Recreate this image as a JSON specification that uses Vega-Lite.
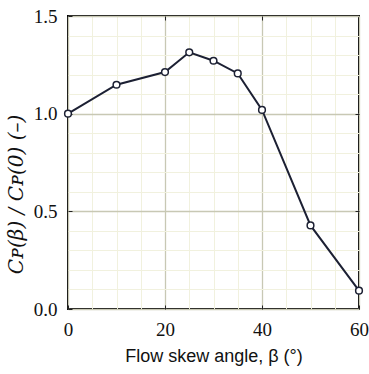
{
  "$schema": "https://vega.github.io/schema/vega-lite/v6.json",
  "autosize": "none",
  "width": 291,
  "height": 293,
  "padding": {"left": 68, "top": 16, "right": 10, "bottom": 65},
  "background": "white",
  "config": {
    "view": {"stroke": "#000000", "strokeWidth": 2},
    "axis": {"labelFont": "Liberation Serif", "titleFontWeight": "normal"}
  },
  "data": {
    "values": [
      {"beta": 0, "ratio": 1.0},
      {"beta": 10, "ratio": 1.148},
      {"beta": 20, "ratio": 1.213},
      {"beta": 25, "ratio": 1.314},
      {"beta": 30, "ratio": 1.271},
      {"beta": 35, "ratio": 1.206},
      {"beta": 40, "ratio": 1.019},
      {"beta": 50, "ratio": 0.428},
      {"beta": 60, "ratio": 0.094}
    ]
  },
  "resolve": {"axis": {"x": "independent", "y": "independent"}},
  "layer": [
    {
      "mark": {"type": "line", "color": "#1c2033", "strokeWidth": 2},
      "encoding": {
        "x": {
          "field": "beta",
          "type": "quantitative",
          "scale": {"domain": [0, 60], "nice": false, "zero": false},
          "axis": {
            "values": [0, 5, 10, 15, 20, 25, 30, 35, 40, 45, 50, 55, 60],
            "labelExpr": "datum.value % 20 === 0 ? datum.label : ''",
            "title": "Flow skew angle, β (°)",
            "titleFont": "Liberation Sans",
            "titleFontSize": 18,
            "titleFontWeight": "normal",
            "titleColor": "#111111",
            "titlePadding": 8,
            "labelFont": "Liberation Serif",
            "labelFontSize": 19,
            "labelColor": "#111111",
            "labelPadding": 15,
            "labelFlush": false,
            "domain": false,
            "tickSize": -4,
            "tickColor": "#222222",
            "tickWidth": 1,
            "tickOpacity": {"condition": {"test": "datum.value % 20 === 0", "value": 1}, "value": 0},
            "grid": true,
            "gridColor": {"condition": {"test": "datum.value % 20 === 0", "value": "#c8c8b4"}, "value": "#f1f1de"},
            "gridWidth": {"condition": {"test": "datum.value % 20 === 0", "value": 1.3}, "value": 1}
          }
        },
        "y": {
          "field": "ratio",
          "type": "quantitative",
          "scale": {"domain": [0, 1.5], "nice": false},
          "axis": {
            "values": [0, 0.1, 0.2, 0.3, 0.4, 0.5, 0.6, 0.7, 0.8, 0.9, 1.0, 1.1, 1.2, 1.3, 1.4, 1.5],
            "labelExpr": "round(datum.value*10) % 5 === 0 ? format(datum.value, '.1f') : ''",
            "title": "Cᴘ(β) / Cᴘ(0) (–)",
            "titleFont": "DejaVu Serif",
            "titleFontSize": 20,
            "titleFontWeight": "normal",
            "titleFontStyle": "italic",
            "titleColor": "#111111",
            "titleX": -52,
            "titleY": 178,
            "titleAlign": "center",
            "titleBaseline": "middle",
            "labelFont": "Liberation Serif",
            "labelFontSize": 19,
            "labelColor": "#111111",
            "labelPadding": 15,
            "labelFlush": false,
            "domain": false,
            "tickSize": -4,
            "tickColor": "#222222",
            "tickWidth": 1,
            "tickOpacity": {"condition": {"test": "round(datum.value*10) % 5 === 0", "value": 1}, "value": 0},
            "grid": true,
            "gridColor": {"condition": {"test": "round(datum.value*10) % 5 === 0", "value": "#c8c8b4"}, "value": "#f1f1de"},
            "gridWidth": {"condition": {"test": "round(datum.value*10) % 5 === 0", "value": 1.3}, "value": 1}
          }
        }
      }
    },
    {
      "mark": {"type": "point", "filled": true, "fill": "#ffffff", "stroke": "#1c2033", "strokeWidth": 1.5, "size": 45, "opacity": 1},
      "encoding": {
        "x": {
          "field": "beta",
          "type": "quantitative",
          "axis": {"orient": "top", "values": [20, 40], "labels": false, "title": null, "domain": false, "grid": false, "tickSize": -4, "tickColor": "#222222", "tickWidth": 1}
        },
        "y": {
          "field": "ratio",
          "type": "quantitative",
          "axis": {"orient": "right", "values": [0.5, 1.0], "labels": false, "title": null, "domain": false, "grid": false, "tickSize": -4, "tickColor": "#222222", "tickWidth": 1}
        }
      }
    }
  ]
}
